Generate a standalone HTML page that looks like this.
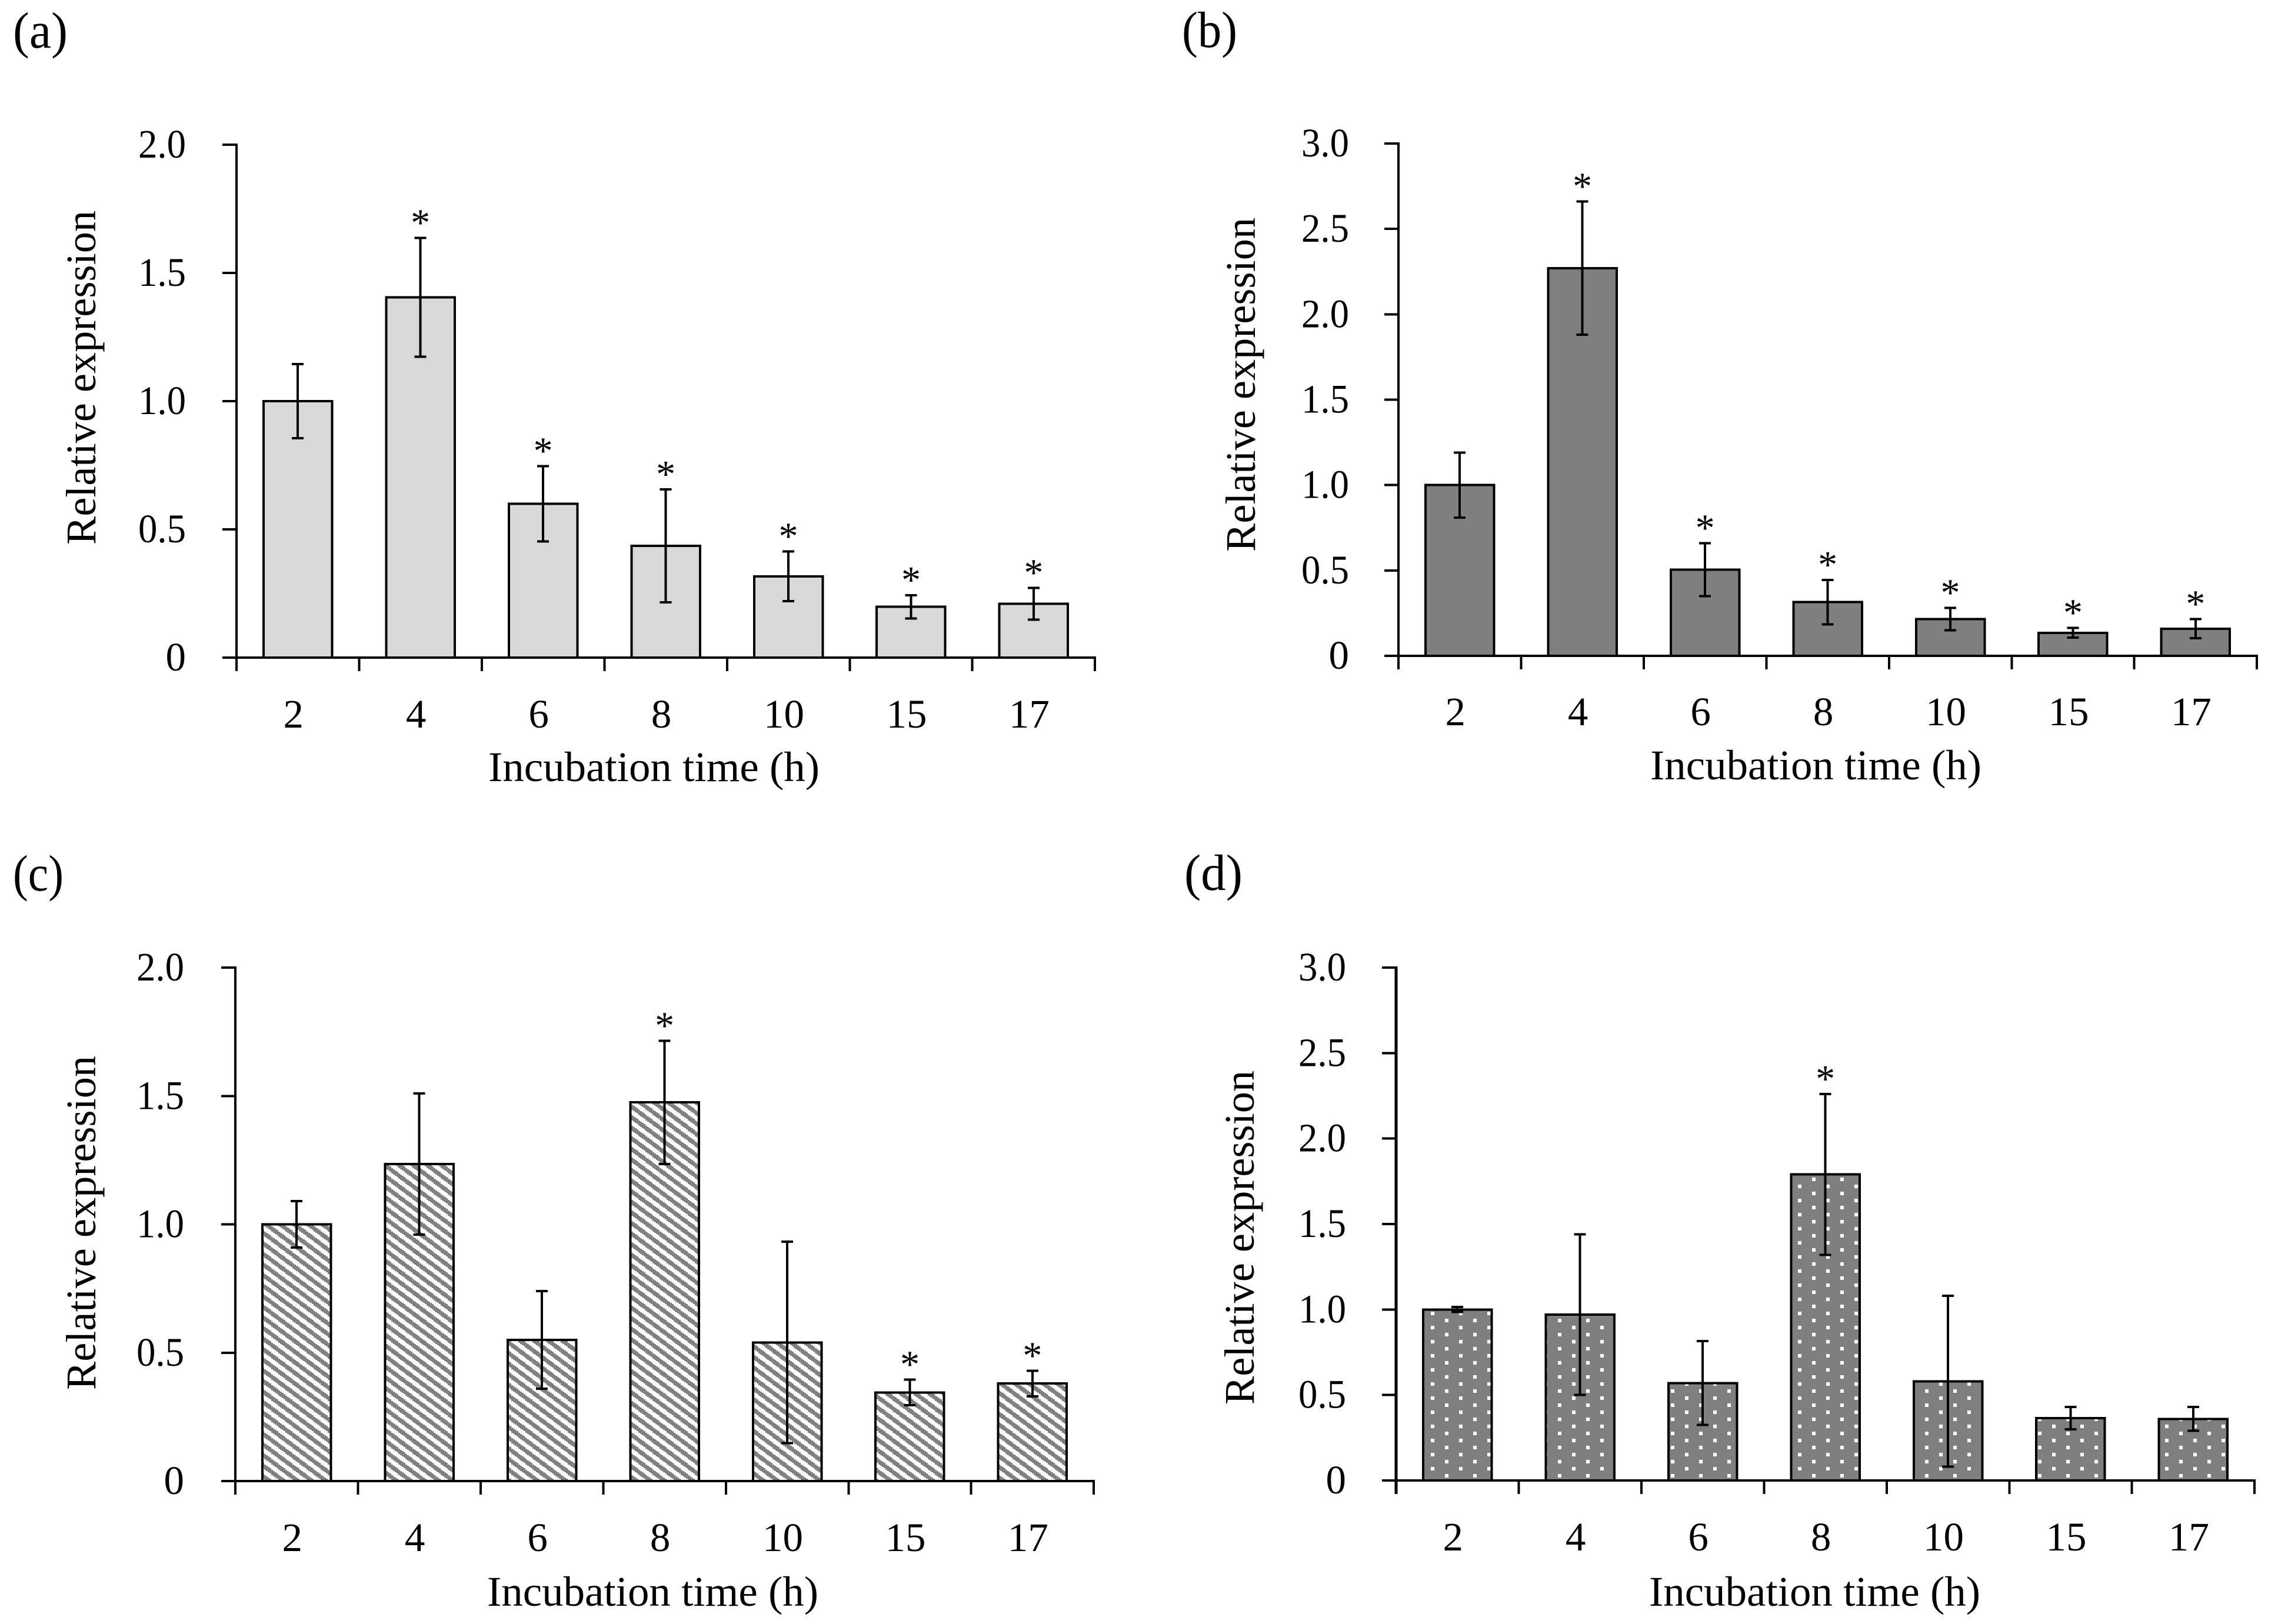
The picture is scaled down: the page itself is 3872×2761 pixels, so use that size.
<!DOCTYPE html>
<html lang="en">
<head>
<meta charset="utf-8">
<title>Relative expression over incubation time</title>
<style>
html,body{margin:0;padding:0;background:#fff;}
svg{display:block;}
text{font-family:"Liberation Serif",serif;fill:#000;}
</style>
</head>
<body>
<svg id="fig" xmlns="http://www.w3.org/2000/svg" width="3872" height="2761" viewBox="0 0 3872 2761">
  <defs>
    <pattern id="stripes" patternUnits="userSpaceOnUse" x="8" y="6" width="24" height="18" shape-rendering="crispEdges"></pattern>
    <pattern id="dots" patternUnits="userSpaceOnUse" x="2432" y="2230" width="48" height="24" shape-rendering="crispEdges">
      <rect width="48" height="24" fill="#7f7f7f"/>
      <rect x="0" y="0" width="6" height="6" fill="#fff"/>
      <rect x="24" y="12" width="6" height="6" fill="#fff"/>
    </pattern>
  </defs>
</svg>
<script>
const categories = ['2', '4', '6', '8', '10', '15', '17'];
const yTicksLow = ['0', '0.5', '1.0', '1.5', '2.0'];
const yTicksHigh = ['0', '0.5', '1.0', '1.5', '2.0', '2.5', '3.0'];

const meansA = [1.0, 1.405, 0.60, 0.436, 0.317, 0.198, 0.21];
const errorsA = [0.145, 0.232, 0.147, 0.22, 0.097, 0.045, 0.062];
const starsA = [0, 1, 1, 1, 1, 1, 1];

const meansB = [1.0, 2.27, 0.505, 0.315, 0.215, 0.135, 0.159];
const errorsB = [0.19, 0.39, 0.155, 0.13, 0.065, 0.028, 0.056];
const starsB = [0, 1, 1, 1, 1, 1, 1];

const meansC = [1.0, 1.235, 0.55, 1.475, 0.54, 0.345, 0.38];
const errorsC = [0.09, 0.275, 0.19, 0.24, 0.392, 0.05, 0.05];
const starsC = [0, 0, 0, 1, 0, 1, 1];

const meansD = [1.0, 0.97, 0.57, 1.79, 0.58, 0.365, 0.36];
const errorsD = [0.015, 0.47, 0.245, 0.47, 0.5, 0.065, 0.07];
const starsD = [0, 0, 0, 1, 0, 0, 0];

const panels = [
  {id:'a', label:'(a)', means:meansA, errors:errorsA, stars:starsA, ticks:yTicksLow, yMax:2, x0:402, yTop:246, yBase:1118, fill:'#d9d9d9',
   labelX:22, labelY:81, labelW:93, tickEnd:316, tickW:81, yTitleX:162, yTitleC:642, xTitleL:830, xTitleY:1328, catY:1237, axisW:4},
  {id:'b', label:'(b)', means:meansB, errors:errorsB, stars:starsB, ticks:yTicksHigh, yMax:3, x0:2377, yTop:244, yBase:1115, fill:'#7f7f7f',
   labelX:2009, labelY:80, labelW:94, tickEnd:2293, tickW:81, yTitleX:2133, yTitleC:654, xTitleL:2805, xTitleY:1325, catY:1233, axisW:4},
  {id:'c', label:'(c)', means:meansC, errors:errorsC, stars:starsC, ticks:yTicksLow, yMax:2, x0:400, yTop:1645, yBase:2518, fill:'url(#stripes)',
   labelX:22, labelY:1514, labelW:86, tickEnd:313, tickW:81, yTitleX:162, yTitleC:2079, xTitleL:828, xTitleY:2730, catY:2637, axisW:4},
  {id:'d', label:'(d)', means:meansD, errors:errorsD, stars:starsD, ticks:yTicksHigh, yMax:3, x0:2373, yTop:1645, yBase:2517, fill:'url(#dots)',
   labelX:2013, labelY:1513, labelW:99, tickEnd:2288, tickW:81, yTitleX:2131, yTitleC:2104, xTitleL:2803, xTitleY:2730, catY:2636, axisW:5}
];

const NS = 'http://www.w3.org/2000/svg';
const STEP = 208.45;
const BAR_W = 116.5;
const svg = document.getElementById('fig');

function mk(parent, tag, attrs, txt) {
  const el = document.createElementNS(NS, tag);
  for (const k in attrs) el.setAttribute(k, attrs[k]);
  if (txt !== undefined) el.textContent = txt;
  parent.appendChild(el);
  return el;
}

/* 8-column, 8-row stepped diagonal stripe */
const stripePattern = document.getElementById('stripes');
mk(stripePattern, 'rect', {width:24, height:18, fill:'#fff'});
for (let i = 0; i < 8; i++) {
  const y1 = Math.floor(i * 2.25), y2 = Math.floor((i + 1) * 2.25);
  mk(stripePattern, 'rect', {x:i * 3, y:y1, width:12, height:y2 - y1, fill:'#808080'});
  mk(stripePattern, 'rect', {x:i * 3 - 24, y:y1, width:12, height:y2 - y1, fill:'#808080'});
}

panels.forEach(function (p) {
  const g = mk(svg, 'g', {});
  
  

  const yScale = function (v) { return p.yBase - (v / p.yMax) * (p.yBase - p.yTop); };
  const xCenter = function (i) { return p.x0 + (i + 0.5) * STEP; };
  const xEdge = function (i) { return p.x0 + i * STEP; };
  const line = {stroke:'#000', 'stroke-width':4, 'shape-rendering':'crispEdges'};
  const sized = function (extra) { return Object.assign({}, line, extra); };

  const panelLabel = mk(g, 'text', {x:p.labelX, y:p.labelY, 'font-size':87, textLength:p.labelW, lengthAdjust:'spacingAndGlyphs'}, p.label);
  
  

  /* bars */
  p.means.forEach(function (v, i) {
    const bar = mk(g, 'rect', {x:xCenter(i) - BAR_W / 2, y:yScale(v), width:BAR_W, height:p.yBase - yScale(v), fill:p.fill, stroke:'#000', 'stroke-width':4, 'shape-rendering':'crispEdges'});
    
    
  });

  /* y axis */
  const yAxis = mk(g, 'line', sized({x1:p.x0, x2:p.x0, y1:p.yTop - 2, y2:p.yBase + 23, 'stroke-width':p.axisW}));
  
  

  p.ticks.forEach(function (t) {
    const y = yScale(parseFloat(t));
    const tick = mk(g, 'line', sized({x1:p.x0 - 24, x2:p.x0, y1:y, y2:y}));
    
    
    const attrs = {x:p.tickEnd, y:y + 22, 'font-size':69, 'text-anchor':'end'};
    if (t.length > 1) { attrs.textLength = p.tickW; attrs.lengthAdjust = 'spacingAndGlyphs'; }
    const tickLabel = mk(g, 'text', attrs, t);
    
    
  });

  /* x axis */
  const xAxis = mk(g, 'line', sized({x1:p.x0 - 24, x2:xEdge(categories.length) + 2, y1:p.yBase, y2:p.yBase}));
  
  

  for (let i = 1; i <= categories.length; i++) {
    const tick = mk(g, 'line', sized({x1:xEdge(i), x2:xEdge(i), y1:p.yBase, y2:p.yBase + 23}));
    
    
  }

  categories.forEach(function (c, i) {
    const catLabel = mk(g, 'text', {x:xCenter(i) - 7.5, y:p.catY, 'font-size':69, 'text-anchor':'middle'}, c);
    
    
  });

  /* error bars and significance marks */
  p.means.forEach(function (v, i) {
    const cx = xCenter(i);
    const hi = yScale(v + p.errors[i]), lo = yScale(v - p.errors[i]);
    const stem = mk(g, 'line', sized({x1:cx, x2:cx, y1:hi, y2:lo}));
    
    
    const capTop = mk(g, 'line', sized({x1:cx - 10, x2:cx + 10, y1:hi, y2:hi}));
    
    
    const capLow = mk(g, 'line', sized({x1:cx - 10, x2:cx + 10, y1:lo, y2:lo}));
    
    
    if (p.stars[i]) {
      const star = mk(g, 'text', {x:cx, y:hi - 4, 'font-size':66, 'text-anchor':'middle'}, '*');
      
      
    }
  });

  /* axis titles */
  const yTitle = mk(g, 'text', {transform:'translate(' + p.yTitleX + ',' + p.yTitleC + ') rotate(-90)', 'font-size':72, 'text-anchor':'middle', textLength:568, lengthAdjust:'spacingAndGlyphs'}, 'Relative expression');
  
  

  const xTitle = mk(g, 'text', {x:p.xTitleL, y:p.xTitleY, 'font-size':72, textLength:563, lengthAdjust:'spacingAndGlyphs'}, 'Incubation time (h)');
  
  
});
</script>
</body>
</html>
